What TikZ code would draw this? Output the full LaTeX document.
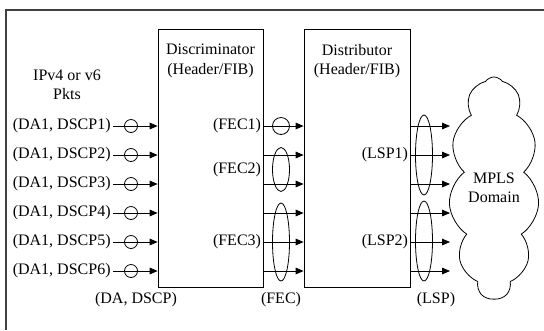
\documentclass[tikz,border=0pt]{standalone}
\usepackage{fontspec}
\setmainfont{Liberation Serif}
\usetikzlibrary{shapes.geometric,shapes.symbols,arrows.meta}

\begin{document}
\begin{tikzpicture}[
    x=0.75pt, y=-0.75pt,
    line width=0.6pt,
    font=\fontsize{12}{14.5}\selectfont,
    box/.style={rectangle, draw, minimum width=105*0.75pt, minimum height=258*0.75pt, inner sep=0pt},
    lbl/.style={inner sep=1.5pt},
    ring/.style={circle, draw, minimum size=13*0.75pt, inner sep=0pt},
    oval/.style={ellipse, draw, inner sep=0pt, minimum width=17*0.75pt},
    arr/.style={-{Triangle[length=6pt,width=5pt]}},
]
\useasboundingbox (0,0) rectangle (544,330);

\draw[black!75, line width=0.9pt] (6,330) -- (6,10) -- (544,10);

\node[box] (disc) at (210.5,158) {};
\node[box, minimum width=106*0.75pt] (dist) at (357,158) {};
\node[align=center] (disct) at (210.5,61) {Discriminator\\(Header/FIB)};
\node[align=center] (distt) at (357,61) {Distributor\\(Header/FIB)};
\node[align=center] (pkts) at (67,84.5) {IPv4 or v6\\Pkts};

\node[lbl, anchor=east] (in1) at (113,126) {(DA1, DSCP1)};
\node[lbl, anchor=east] (in2) at (113,155) {(DA1, DSCP2)};
\node[lbl, anchor=east] (in3) at (113,184) {(DA1, DSCP3)};
\node[lbl, anchor=east] (in4) at (113,213) {(DA1, DSCP4)};
\node[lbl, anchor=east] (in5) at (113,242) {(DA1, DSCP5)};
\node[lbl, anchor=east] (in6) at (113,271) {(DA1, DSCP6)};

\node[ring] (c1) at (131,126) {};
\node[ring] (c2) at (131,155) {};
\node[ring] (c3) at (131,184) {};
\node[ring] (c4) at (131,213) {};
\node[ring] (c5) at (131,242) {};
\node[ring] (c6) at (131,271) {};

\draw[arr] (in1.east) -- (in1 -| disc.west);
\draw[arr] (in2.east) -- (in2 -| disc.west);
\draw[arr] (in3.east) -- (in3 -| disc.west);
\draw[arr] (in4.east) -- (in4 -| disc.west);
\draw[arr] (in5.east) -- (in5 -| disc.west);
\draw[arr] (in6.east) -- (in6 -| disc.west);

\draw[arr] (in1 -| disc.east) -- (in1 -| dist.west);
\draw[arr] (in2 -| disc.east) -- (in2 -| dist.west);
\draw[arr] (in3 -| disc.east) -- (in3 -| dist.west);
\draw[arr] (in4 -| disc.east) -- (in4 -| dist.west);
\draw[arr] (in5 -| disc.east) -- (in5 -| dist.west);
\draw[arr] (in6 -| disc.east) -- (in6 -| dist.west);

\node[ring, minimum size=17*0.75pt] (fc1) at (281,126) {};
\node[oval, minimum height=44*0.75pt] (fc2) at (281,169.5) {};
\node[oval, minimum height=78*0.75pt] (fc3) at (281,242) {};

\node[lbl, anchor=east] (fec1) at (in1 -| disc.east) {(FEC1)};
\node[lbl, anchor=east] (fec2) at (fc2 -| disc.east) {(FEC2)};
\node[lbl, anchor=east] (fec3) at (in5 -| disc.east) {(FEC3)};

\coordinate (edge) at (450,0);
\draw[arr] (in1 -| dist.east) -- (in1 -| edge);
\draw[arr] (in2 -| dist.east) -- (in2 -| edge);
\draw[arr] (in3 -| dist.east) -- (in3 -| edge);
\draw[arr] (in4 -| dist.east) -- (in4 -| edge);
\draw[arr] (in5 -| dist.east) -- (in5 -| edge);
\draw[arr] (in6 -| dist.east) -- (in6 -| edge);

\node[oval, minimum height=80*0.75pt] (lsp1) at (424,155) {};
\node[oval, minimum height=80*0.75pt] (lsp2) at (424,241) {};

\node[lbl, anchor=east] (lspl1) at (in2 -| dist.east) {(LSP1)};
\node[lbl, anchor=east] (lspl2) at (in5 -| dist.east) {(LSP2)};

\node[cloud, draw, cloud puffs=11, cloud puff arc=110, cloud ignores aspect,
      minimum width=86*0.75pt, minimum height=222*0.75pt, align=center] (mpls) at (494,188) {MPLS\\Domain};

\node (dscp) at (136,300) {(DA, DSCP)};
\node (fec) at (281,300) {(FEC)};
\node (lsp) at (436,300) {(LSP)};

\end{tikzpicture}
\end{document}
